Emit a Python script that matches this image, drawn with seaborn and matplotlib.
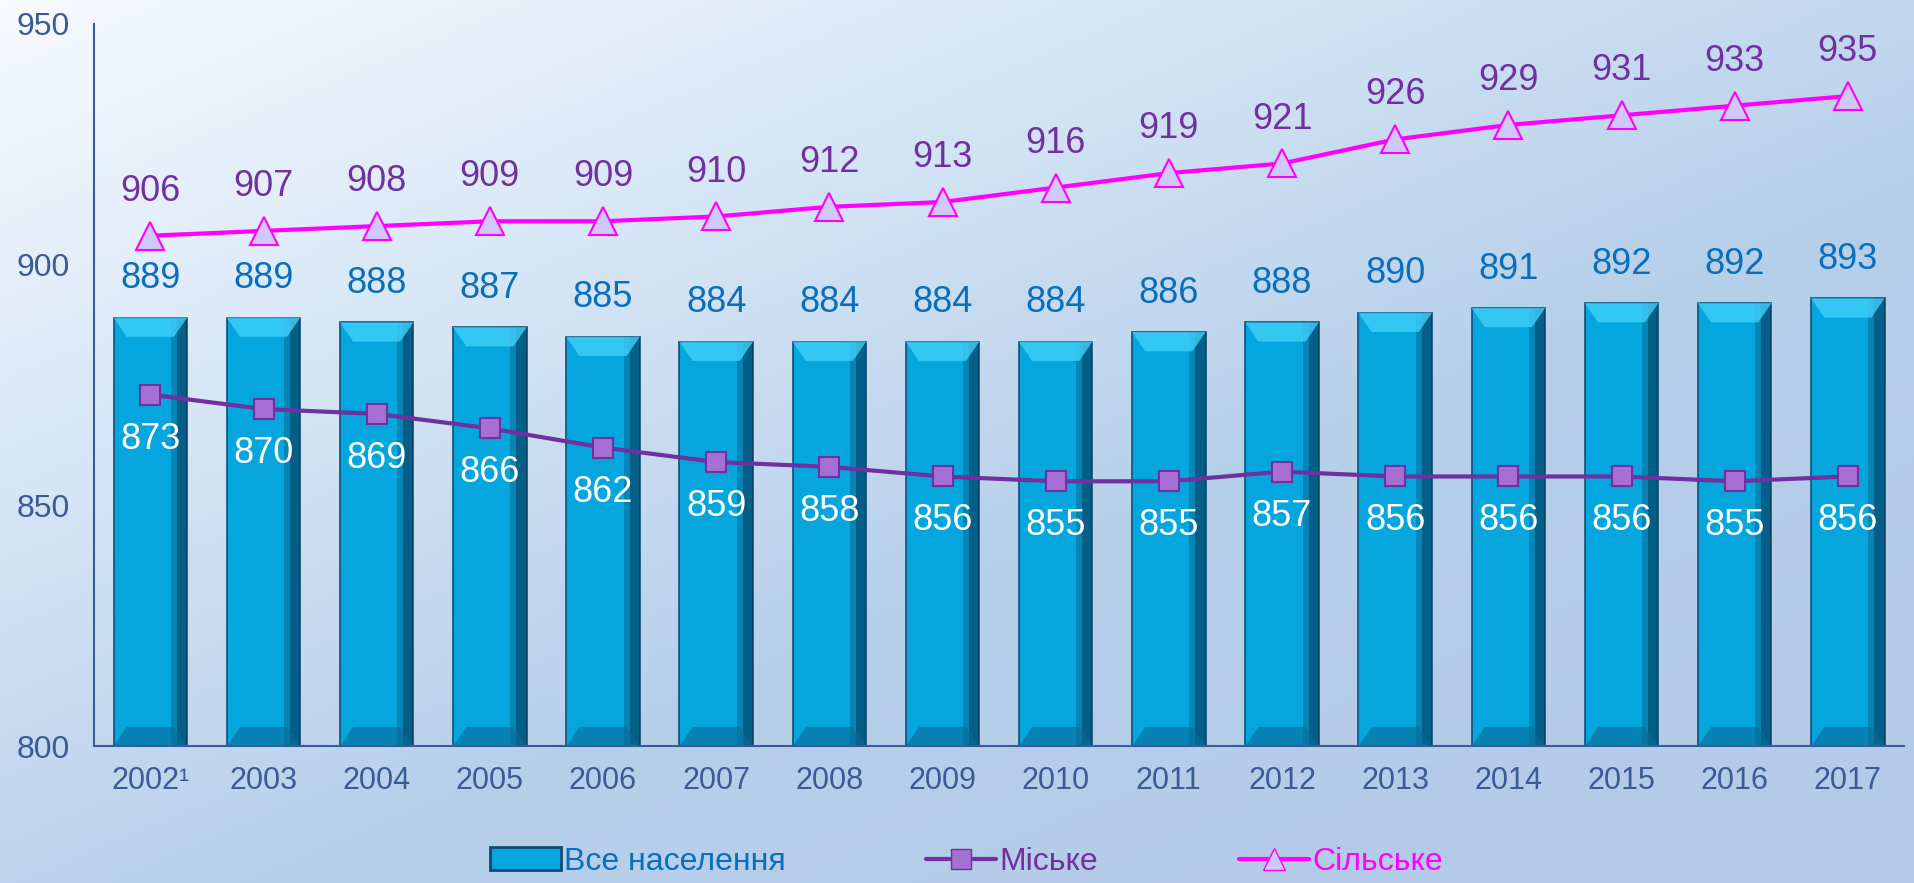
import numpy as np
import pandas as pd
import matplotlib
matplotlib.use("Agg")
import matplotlib.pyplot as plt
import matplotlib.patches as mpatches
from matplotlib.lines import Line2D
from matplotlib.colors import LinearSegmentedColormap
import seaborn as sns

years = ["2002\u00b9", "2003", "2004", "2005", "2006", "2007", "2008", "2009",
         "2010", "2011", "2012", "2013", "2014", "2015", "2016", "2017"]
total = [889, 889, 888, 887, 885, 884, 884, 884, 884, 886, 888, 890, 891, 892, 892, 893]
urban = [873, 870, 869, 866, 862, 859, 858, 856, 855, 855, 857, 856, 856, 856, 855, 856]
rural = [906, 907, 908, 909, 909, 910, 912, 913, 916, 919, 921, 926, 929, 931, 933, 935]

sns.set_style("white")
plt.rcParams["font.family"] = ["Liberation Sans", "DejaVu Sans"]

AXIS_C = "#3b5a96"
BAR_C = "#05a6de"
BAR_LBL = "#0a6fba"
URB_C = "#7030a0"
RUR_C = "#ff00ff"

fig = plt.figure(figsize=(19.14, 8.83), dpi=100)

# фон з градієнтом
bg = fig.add_axes([0, 0, 1, 1], zorder=-10)
gx, gy = np.meshgrid(np.linspace(0, 1, 400), np.linspace(0, 1, 200))
grad = np.clip(0.55 * gx + 0.6 * gy, 0, 1)
cmap = LinearSegmentedColormap.from_list("bg", ["#f7fafe", "#d6e6f6", "#b7d0ea", "#b3cbe8"])
bg.imshow(grad, cmap=cmap, aspect="auto", extent=[0, 1, 0, 1], origin="upper")
bg.axis("off")

ax = fig.add_axes([0.049, 0.155, 0.946, 0.818])
ax.patch.set_alpha(0)

df = pd.DataFrame({"year": years, "total": total})
sns.barplot(data=df, x="year", y="total", color=BAR_C, width=0.65,
            saturation=1, edgecolor="#134f78", linewidth=1.2, ax=ax, zorder=2)

ax.set_ylim(800, 950)

# об'ємний ефект стовпців
for p in ax.patches:
    x0, w = p.get_x(), p.get_width()
    top = p.get_height()
    dy = 4
    ax.add_patch(mpatches.Rectangle((x0 + w * 0.86, 800), w * 0.14, top - 800,
                                    facecolor="#042f4c", alpha=0.6, lw=0, zorder=2.1))
    ax.add_patch(mpatches.Rectangle((x0 + w * 0.78, 800), w * 0.08, top - 800,
                                    facecolor="#063a5c", alpha=0.3, lw=0, zorder=2.1))
    ax.add_patch(mpatches.Polygon([(x0, top), (x0 + w, top), (x0 + w * 0.82, top - dy),
                                   (x0 + w * 0.18, top - dy)],
                                  facecolor="#3fd0fa", alpha=0.8, lw=0, zorder=2.2))
    ax.add_patch(mpatches.Polygon([(x0, 800), (x0 + w, 800), (x0 + w * 0.82, 800 + dy),
                                   (x0 + w * 0.18, 800 + dy)],
                                  facecolor="#0a6a96", alpha=0.6, lw=0, zorder=2.2))

xs = np.arange(len(years))
sns.lineplot(x=xs, y=urban, color=URB_C, lw=3, marker="s", markersize=14,
             markerfacecolor="#a56fd4", markeredgecolor=URB_C, markeredgewidth=1.5,
             ax=ax, zorder=4)
sns.lineplot(x=xs, y=rural, color=RUR_C, lw=3, marker="^", markersize=20,
             markerfacecolor="#cfc9fb", markeredgecolor=RUR_C, markeredgewidth=1.5,
             ax=ax, zorder=4)

for i in range(len(years)):
    ax.annotate(str(total[i]), (xs[i], total[i]), xytext=(0, 28), textcoords="offset points",
                ha="center", va="center", fontsize=26, color=BAR_LBL, zorder=5)
    ax.annotate(str(urban[i]), (xs[i], urban[i]), xytext=(0, -32), textcoords="offset points",
                ha="center", va="center", fontsize=26, color="white", zorder=5)
    ax.annotate(str(rural[i]), (xs[i], rural[i]), xytext=(0, 32), textcoords="offset points",
                ha="center", va="center", fontsize=26, color=URB_C, zorder=5)

ax.set_xlim(-0.5, len(years) - 0.5)
ax.set_yticks([800, 850, 900, 950])
ax.set_xticks(xs)
ax.set_xticks(np.arange(-0.5, len(years), 1), minor=True)
ax.tick_params(axis="x", which="major", length=0, pad=14, labelsize=22, labelcolor=AXIS_C)
ax.tick_params(axis="x", which="minor", length=10, width=1.3, color=AXIS_C, direction="out")
ax.tick_params(axis="y", length=10, width=1.3, color=AXIS_C, direction="out",
               labelsize=23, labelcolor=AXIS_C, pad=7)
ax.set_xlabel("")
ax.set_ylabel("")
for s in ["top", "right"]:
    ax.spines[s].set_visible(False)
for s in ["left", "bottom"]:
    ax.spines[s].set_color(AXIS_C)
    ax.spines[s].set_linewidth(1.5)

handles = [
    mpatches.Patch(facecolor=BAR_C, edgecolor="#0b4c75", lw=2),
    Line2D([], [], color=URB_C, lw=3, marker="s", markersize=14,
           markerfacecolor="#a56fd4", markeredgecolor=URB_C),
    Line2D([], [], color=RUR_C, lw=3, marker="^", markersize=16,
           markerfacecolor="#cfc9fb", markeredgecolor=RUR_C),
]
leg = fig.legend(handles, ["Все населення", "Міське", "Сільське"], loc="center",
                 bbox_to_anchor=(0.505, 0.024), ncol=3, frameon=False, fontsize=23,
                 columnspacing=4.4, handlelength=2.2, handletextpad=0.1)
for t, c in zip(leg.get_texts(), [BAR_LBL, URB_C, RUR_C]):
    t.set_color(c)

fig.savefig("out.png", dpi=100)
